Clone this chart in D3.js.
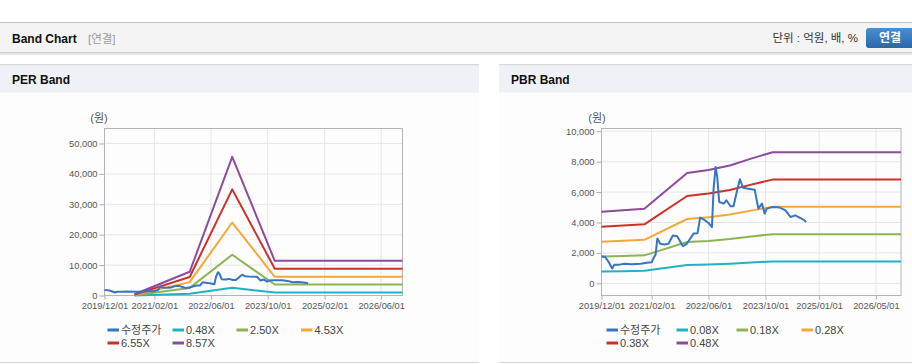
<!DOCTYPE html>
<html>
<head>
<meta charset="utf-8">
<script src="https://cdn.jsdelivr.net/npm/d3@7"></script>
<style>
  body { margin: 0; background: #fff; }
  svg { display: block; font-family: "Liberation Sans", Arial, "Noto Sans CJK KR", sans-serif; }
  .tick text { fill: #555; font-size: 9.3px; }
</style>
</head>
<body>
<svg id="chart" width="912" height="364"></svg>
<script>
// series names + colours (legend order)
var perNames = ["수정주가", "0.48X", "2.50X", "4.53X", "6.55X", "8.57X"];
var pbrNames = ["수정주가", "0.08X", "0.18X", "0.28X", "0.38X", "0.48X"];
var colors = ["#3674c4", "#1db3c7", "#8db453", "#f5a73a", "#cf2f29", "#8e4b9c"];

// adjusted price (same stock for both charts)
var priceDates = ["2019-12-01","2020-01-01","2020-02-01","2020-03-01","2020-03-20","2020-05-01","2020-06-15",
  "2020-08-15","2020-11-01","2020-12-20","2021-02-01","2021-02-20","2021-03-07","2021-03-22","2021-04-15",
  "2021-05-20","2021-06-25","2021-08-01","2021-09-07","2021-10-25","2021-11-28","2022-01-25","2022-02-28",
  "2022-03-22","2022-05-01","2022-06-01","2022-07-01","2022-07-15","2022-08-01","2022-08-15","2022-09-01",
  "2022-10-10","2022-11-01","2022-12-07","2023-01-01","2023-02-01","2023-02-25","2023-03-22","2023-04-25",
  "2023-07-01","2023-08-01","2023-09-01","2023-09-25","2023-10-12","2023-11-12","2023-12-10","2024-02-01",
  "2024-03-20","2024-05-01","2024-06-12","2024-07-10","2024-08-20","2024-09-12"];
var price = [1780,1730,1400,970,1230,1230,1290,
  1250,1290,1360,1380,1700,1900,2950,2600,
  2560,2600,3150,3100,2450,2600,3270,3300,
  4320,4150,3970,3700,6230,7650,7000,5350,
  5240,5460,5070,5070,6120,6840,6300,6230,
  6160,4910,5240,4580,4910,4980,5020,4980,
  4800,4360,4470,4360,4190,4030];

// PER band
var perDates = ["2020-08-15", "2021-12-01", "2022-12-01", "2023-12-01", "2026-12-01"];
var per048 = [30, 550, 2550, 950, 950];
var per250 = [100, 2500, 13400, 3600, 3600];
var per453 = [200, 4400, 24000, 6150, 6150];
var per655 = [300, 6100, 34900, 8800, 8800];
var per857 = [400, 7800, 45600, 11400, 11400];
var perYTicks = [0, 10000, 20000, 30000, 40000, 50000];
var perXTicks = ["2019-12-01", "2021-02-01", "2022-06-01", "2023-10-01", "2025-02-01", "2026-06-01"];

// PBR band
var pbrDates = ["2019-12-01", "2020-06-01", "2020-12-01", "2021-12-01", "2022-06-01",
  "2022-12-01", "2023-06-01", "2023-12-01", "2026-12-01"];
var pbr008 = [780, 800, 820, 1210, 1240, 1290, 1370, 1440, 1440];
var pbr018 = [1760, 1800, 1840, 2720, 2790, 2910, 3080, 3230, 3230];
var pbr028 = [2740, 2800, 2860, 4230, 4350, 4520, 4780, 5030, 5030];
var pbr038 = [3720, 3800, 3880, 5740, 5900, 6140, 6490, 6820, 6820];
var pbr048 = [4700, 4800, 4900, 7250, 7450, 7750, 8200, 8620, 8620];
var pbrYTicks = [0, 2000, 4000, 6000, 8000, 10000];
var pbrXTicks = ["2019-12-01", "2021-02-01", "2022-06-01", "2023-10-01", "2025-01-01", "2026-05-01"];

var parse = d3.timeParse("%Y-%m-%d");
var svg = d3.select("#chart");

function zip(dates, vals) {
  return dates.map(function(d, i) { return { date: parse(d), value: vals[i] }; });
}

// ---- page header ----
var defs = svg.append("defs");
var grad = defs.append("linearGradient").attr("id", "btn").attr("x1", 0).attr("y1", 0).attr("x2", 0).attr("y2", 1);
grad.append("stop").attr("offset", "0%").attr("stop-color", "#4a8fd4");
grad.append("stop").attr("offset", "100%").attr("stop-color", "#2a66a8");

svg.append("rect").attr("x", 0).attr("y", 22).attr("width", 912).attr("height", 1).attr("fill", "#c4c4c4");
svg.append("rect").attr("x", 0).attr("y", 23).attr("width", 912).attr("height", 30).attr("fill", "#f4f4f4");
svg.append("rect").attr("x", 0).attr("y", 52).attr("width", 912).attr("height", 1).attr("fill", "#cfcfcf");
svg.append("rect").attr("x", 0).attr("y", 53).attr("width", 912).attr("height", 2).attr("fill", "#e6e6e6");
svg.append("text").attr("x", 12).attr("y", 43).attr("font-size", "12px").attr("font-weight", "bold")
  .attr("fill", "#111").text("Band Chart");
svg.append("text").attr("x", 88).attr("y", 43).attr("font-size", "11.5px").attr("fill", "#999").text("[연결]");
svg.append("text").attr("x", 858).attr("y", 42).attr("text-anchor", "end").attr("font-size", "11.5px")
  .attr("fill", "#333").text("단위 : 억원, 배, %");
svg.append("rect").attr("x", 866).attr("y", 28).attr("width", 52).attr("height", 20).attr("rx", 3)
  .attr("fill", "url(#btn)");
svg.append("text").attr("x", 890).attr("y", 42).attr("text-anchor", "middle").attr("font-size", "12px")
  .attr("font-weight", "bold").attr("fill", "#fff").text("연결");

// ---- panels ----
function panel(x0, w, title) {
  var g = svg.append("g");
  g.append("rect").attr("x", x0).attr("y", 64).attr("width", w).attr("height", 299).attr("fill", "#fdfdfd");
  g.append("rect").attr("x", x0).attr("y", 64).attr("width", w).attr("height", 1.5).attr("fill", "#d6d6d6");
  g.append("rect").attr("x", x0).attr("y", 65.5).attr("width", w).attr("height", 27).attr("fill", "#eef1f5");
  g.append("rect").attr("x", x0).attr("y", 362).attr("width", w).attr("height", 1).attr("fill", "#d6d6d6");
  g.append("text").attr("x", x0 + 12).attr("y", 84).attr("font-size", "12px").attr("font-weight", "bold")
    .attr("fill", "#111").text(title);
}
panel(0, 479, "PER Band");
panel(499, 413, "PBR Band");

function drawChart(cfg) {
  var x = d3.scaleTime().domain([parse("2019-12-01"), parse("2026-12-01")]).range([cfg.left, cfg.right]);
  var y = d3.scaleLinear().domain(cfg.yDomain).range([cfg.bottom, cfg.top]);
  var g = svg.append("g");

  // grid
  g.selectAll(".vg").data(cfg.xTicks).enter().append("line")
    .attr("x1", function(d) { return x(parse(d)); }).attr("x2", function(d) { return x(parse(d)); })
    .attr("y1", cfg.top).attr("y2", cfg.bottom).attr("stroke", "#e6e6e6");
  g.selectAll(".hg").data(cfg.yTicks).enter().append("line")
    .attr("x1", cfg.left).attr("x2", cfg.right)
    .attr("y1", function(d) { return y(d); }).attr("y2", function(d) { return y(d); }).attr("stroke", "#e6e6e6");

  // axes
  var ya = g.append("g").attr("transform", "translate(" + cfg.left + ",0)")
    .call(d3.axisLeft(y).tickValues(cfg.yTicks).tickFormat(d3.format(",")).tickSize(5).tickPadding(2));
  var xa = g.append("g").attr("transform", "translate(0," + cfg.bottom + ")")
    .call(d3.axisBottom(x).tickValues(cfg.xTicks.map(parse)).tickFormat(d3.timeFormat("%Y/%m/%d"))
      .tickSize(4).tickPadding(3));
  [ya, xa].forEach(function(a) {
    a.select(".domain").remove();
    a.selectAll(".tick line").attr("stroke", "#aaa");
  });

  g.append("rect").attr("x", cfg.left).attr("y", cfg.top)
    .attr("width", cfg.right - cfg.left).attr("height", cfg.bottom - cfg.top)
    .attr("fill", "none").attr("stroke", "#b4b4b4");

  g.append("text").attr("x", cfg.unitX).attr("y", 122).attr("text-anchor", "middle")
    .attr("font-size", "11px").attr("fill", "#555").text("(원)");

  var line = d3.line().x(function(d) { return x(d.date); }).y(function(d) { return y(d.value); });

  // bands first, price on top
  cfg.series.slice(1).forEach(function(s, i) {
    g.append("path").datum(s).attr("d", line).attr("fill", "none")
      .attr("stroke", colors[i + 1]).attr("stroke-width", 2).attr("stroke-linejoin", "round");
  });
  g.append("path").datum(cfg.series[0]).attr("d", line).attr("fill", "none")
    .attr("stroke", colors[0]).attr("stroke-width", 2).attr("stroke-linejoin", "round");

  // legend
  cfg.names.forEach(function(n, i) {
    var lx = cfg.legendX[i], ly = i < 4 ? 330 : 343;
    g.append("line").attr("x1", lx).attr("x2", lx + 11.5).attr("y1", ly).attr("y2", ly)
      .attr("stroke", colors[i]).attr("stroke-width", 3);
    g.append("text").attr("x", lx + 13.5).attr("y", ly).attr("dy", "0.36em")
      .attr("font-size", "11px").attr("fill", "#444").text(n);
  });
}

var priceData = zip(priceDates, price);

drawChart({
  left: 104.5, right: 402.5, top: 128.5, bottom: 295.5,
  yDomain: [0, 54930], yTicks: perYTicks, xTicks: perXTicks, unitX: 99,
  names: perNames,
  legendX: [107.5, 172.5, 236.5, 301, 107.5, 172.5],
  series: [priceData, zip(perDates, per048), zip(perDates, per250), zip(perDates, per453),
    zip(perDates, per655), zip(perDates, per857)]
});

drawChart({
  left: 601.5, right: 901, top: 128.5, bottom: 295.5,
  yDomain: [-800, 10180], yTicks: pbrYTicks, xTicks: pbrXTicks, unitX: 597,
  names: pbrNames,
  legendX: [606.5, 676.5, 736.5, 801.5, 606.5, 676.5],
  series: [priceData, zip(pbrDates, pbr008), zip(pbrDates, pbr018), zip(pbrDates, pbr028),
    zip(pbrDates, pbr038), zip(pbrDates, pbr048)]
});
</script>
</body>
</html>
